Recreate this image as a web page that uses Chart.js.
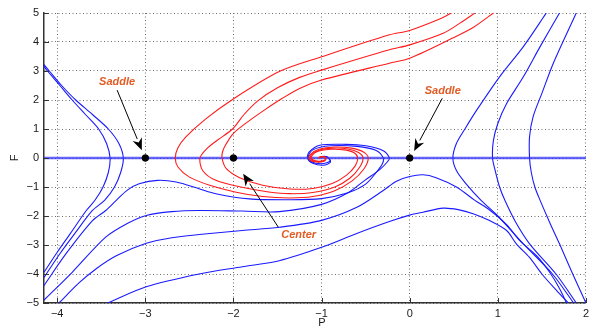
<!DOCTYPE html>
<html>
<head>
<meta charset="utf-8">
<script src="https://cdn.jsdelivr.net/npm/chart.js@4.4.0/dist/chart.umd.min.js"></script>
<style>
  html, body { margin: 0; padding: 0; background: #fff; }
  canvas { display: block; }
</style>
</head>
<body>
<canvas id="faseCanvas" width="593" height="331"></canvas>
<script>
/* Retrato de fase P-F: trayectorias */

// Rango de ejes y marcas
const xMin = -4.15, xMax = 2;
const yMin = -5, yMax = 5;
const xTicks = [-4, -3, -2, -1, 0, 1, 2];
const yTicks = [-5, -4, -3, -2, -1, 0, 1, 2, 3, 4, 5];

// Puntos de equilibrio
const equilibrios = [[-3, 0], [-2, 0], [0, 0]];

// Trayectorias rojas (espiral)
const rojaExterior = [[0.47,5.0],[0.36,4.82],[0.0,4.40],[-0.23,4.25],[-1.0,3.49],[-1.48,2.98],[-2.01,2.02],[-2.31,1.36],[-2.54,0.73],[-2.63,0.35],[-2.66,0],[-2.63,-0.31],[-2.5,-0.66],[-2.27,-0.94],[-1.97,-1.18],[-1.67,-1.33],[-1.36,-1.38],[-1.1,-1.33],[-0.85,-1.13],[-0.65,-0.78],[-0.52,-0.38],[-0.47,0],[-0.52,0.2],[-0.66,0.34],[-0.85,0.38],[-1.03,0.3],[-1.13,0.12],[-1.14,-0.04],[-1.08,-0.13],[-0.98,-0.12],[-0.95,-0.02],[-0.99,0.05],[-1.03,0.02],[-1.02,-0.01]];
const rojaMedia = [[0.74,5.0],[0.57,4.65],[0.38,4.3],[0.0,3.9],[-0.23,3.73],[-1.0,3.03],[-1.25,2.78],[-1.5,2.42],[-1.72,1.98],[-1.88,1.5],[-2.01,1.0],[-2.18,0.62],[-2.31,0.3],[-2.38,0],[-2.35,-0.43],[-2.2,-0.77],[-1.89,-1.02],[-1.6,-1.17],[-1.36,-1.23],[-1.1,-1.19],[-0.85,-1.0],[-0.68,-0.7],[-0.57,-0.33],[-0.53,0],[-0.58,0.19],[-0.7,0.31],[-0.87,0.34],[-1.03,0.27],[-1.12,0.1],[-1.12,-0.05],[-1.05,-0.12],[-0.97,-0.1],[-0.95,0],[-1.0,0.05],[-1.03,0.01]];
const rojaInterior = [[0.95,5.0],[0.72,4.5],[0.53,4.2],[0.0,3.44],[-0.23,3.27],[-1.0,2.69],[-1.25,2.4],[-1.45,2.05],[-1.65,1.65],[-1.85,1.22],[-2.0,0.85],[-2.08,0.5],[-2.12,0.25],[-2.13,0],[-2.08,-0.37],[-1.93,-0.68],[-1.67,-0.94],[-1.36,-1.07],[-1.1,-1.05],[-0.88,-0.88],[-0.72,-0.6],[-0.62,-0.28],[-0.59,0],[-0.63,0.18],[-0.74,0.28],[-0.9,0.3],[-1.04,0.23],[-1.11,0.08],[-1.1,-0.06],[-1.03,-0.11],[-0.96,-0.07],[-0.96,0.03],[-1.01,0.04],[-1.02,0]];

// Trayectorias azules
const separatriz = [[xMin, 0], [xMax, 0]];
const azulIzqInterior = [[-4.15,3.16],[-4.11,3.0],[-3.97,2.5],[-3.83,2.0],[-3.68,1.5],[-3.53,1.0],[-3.44,0.5],[-3.40,0],[-3.42,-0.5],[-3.48,-1.0],[-3.57,-1.45],[-3.67,-1.81],[-3.85,-2.6],[-4.0,-3.25],[-4.15,-3.94]];
const azulIzqExterior = [[-4.15,3.22],[-4.09,3.0],[-3.95,2.5],[-3.79,2.0],[-3.60,1.5],[-3.42,1.0],[-3.30,0.5],[-3.25,0],[-3.28,-0.5],[-3.35,-1.0],[-3.46,-1.45],[-3.60,-1.81],[-3.8,-2.6],[-3.97,-3.3],[-4.15,-4.12]];
const azulEspiralA = [[-4.15,-4.40],[-3.9,-3.3],[-3.6,-2.16],[-3.45,-1.81],[-3.33,-1.46],[-3.2,-1.1],[-3.07,-0.89],[-2.86,-0.77],[-2.65,-0.83],[-2.39,-1.06],[-2.2,-1.23],[-1.82,-1.41],[-1.36,-1.44],[-1.0,-1.4],[-0.7,-1.2],[-0.5,-0.9],[-0.38,-0.5],[-0.31,-0.2],[-0.30,0],[-0.38,0.26],[-0.6,0.4],[-0.9,0.42],[-1.1,0.28],[-1.15,0.05],[-1.12,-0.12],[-1.0,-0.2],[-0.9,-0.1],[-0.95,0.05],[-1.02,0.02]];
const azulEspiralB = [[-4.15,-4.90],[-3.83,-3.94],[-3.45,-2.73],[-3.2,-2.25],[-2.99,-1.98],[-2.7,-1.85],[-2.39,-1.81],[-1.9,-1.83],[-1.48,-1.85],[-1.0,-1.6],[-0.7,-1.2],[-0.51,-0.77],[-0.34,-0.4],[-0.25,-0.12],[-0.23,0],[-0.3,0.25],[-0.5,0.42],[-0.72,0.47],[-1.02,0.44],[-1.14,0.21],[-1.16,0],[-1.1,-0.18],[-0.98,-0.25],[-0.9,-0.15],[-0.93,0.03],[-1.0,0.05],[-1.02,0]];
const azulJoroba1 = [[-3.98,-5.0],[-3.75,-4.3],[-3.55,-3.8],[-3.33,-3.37],[-2.99,-2.94],[-2.7,-2.75],[-2.39,-2.64],[-1.9,-2.5],[-1.48,-2.39],[-1.0,-2.15],[-0.6,-1.7],[-0.3,-1.12],[-0.15,-0.8],[0.0,-0.64],[0.15,-0.58],[0.3,-0.68],[0.53,-1.0],[0.74,-1.46],[0.91,-1.8],[1.1,-2.3],[1.25,-2.85],[1.45,-3.4],[1.59,-3.95],[1.7,-4.5],[1.78,-5.0]];
const azulJoroba2 = [[-3.43,-5.0],[-2.99,-4.44],[-2.39,-4.0],[-1.9,-3.75],[-1.48,-3.54],[-1.0,-3.08],[-0.6,-2.6],[-0.23,-2.19],[0.0,-1.97],[0.15,-1.87],[0.38,-1.73],[0.55,-1.78],[0.72,-1.92],[0.9,-2.15],[1.10,-2.5],[1.21,-2.96],[1.36,-3.43],[1.5,-4.0],[1.67,-4.58],[1.80,-5.0]];
const azulDer1 = [[1.55,5],[1.29,3.84],[1.02,2.8],[0.76,1.65],[0.63,1.02],[0.53,0.5],[0.49,0],[0.53,-0.43],[0.64,-0.89],[0.81,-1.46],[1.0,-2.0],[1.29,-2.96],[1.62,-4.0],[1.86,-5]];
const azulDer2 = [[1.70,5],[1.48,3.84],[1.29,2.8],[1.10,1.88],[1.0,1.19],[0.95,0.61],[0.94,0],[0.97,-0.43],[1.02,-1.0],[1.08,-1.46],[1.2,-2.2],[1.36,-2.96],[1.66,-4.0],[1.89,-5]];
const azulDer3 = [[1.89,5],[1.63,3.27],[1.50,2.23],[1.40,1.42],[1.36,0.73],[1.36,0],[1.38,-0.5],[1.42,-1.0],[1.48,-1.46],[1.6,-2.3],[1.70,-2.96],[1.85,-4.0],[2.0,-5]];

// Anotaciones: texto y flecha (cola -> punta) en coordenadas de datos
const anotaciones = [
  { texto: 'Saddle', pos: [-3.32, 2.62], cola: [-3.32, 2.34], punta: [-3.04, 0.27] },
  { texto: 'Saddle', pos: [0.375, 2.31], cola: [0.37, 2.06], punta: [0.05, 0.24] },
  { texto: 'Center', pos: [-1.26, -2.67], cola: [-1.49, -2.39], punta: [-1.89, -0.54] }
];

const fuente = 'Liberation Sans, Arial, Helvetica, sans-serif';
const formatear = (v) => (v < 0 ? '\u2212' + Math.abs(v) : String(v));
const aPuntos = (arr) => arr.map(([x, y]) => ({ x, y }));

function curva(arr, color, ancho) {
  return {
    data: aPuntos(arr),
    showLine: true,
    borderColor: color,
    borderWidth: ancho || 1.1,
    pointRadius: 0,
    tension: 0.3,
    fill: false
  };
}

// Flechas, textos, marcas internas y títulos de ejes
const pluginExtras = {
  id: 'extras',
  afterDatasetsDraw(chart) {
    const { ctx, chartArea, scales: { x, y } } = chart;
    ctx.save();
    // marcas internas
    ctx.strokeStyle = '#333';
    ctx.lineWidth = 1;
    ctx.beginPath();
    xTicks.forEach(v => {
      const px = Math.round(x.getPixelForValue(v)) + 0.5;
      ctx.moveTo(px, chartArea.bottom);
      ctx.lineTo(px, chartArea.bottom - 5);
    });
    yTicks.forEach(v => {
      const py = Math.round(y.getPixelForValue(v)) + 0.5;
      ctx.moveTo(chartArea.left, py);
      ctx.lineTo(chartArea.left + 5, py);
    });
    ctx.stroke();

    anotaciones.forEach(a => {
      const x0 = x.getPixelForValue(a.cola[0]), y0 = y.getPixelForValue(a.cola[1]);
      const x1 = x.getPixelForValue(a.punta[0]), y1 = y.getPixelForValue(a.punta[1]);
      const ang = Math.atan2(y1 - y0, x1 - x0);
      const largo = 12, media = 5;
      const bx = x1 - largo * Math.cos(ang), by = y1 - largo * Math.sin(ang);
      ctx.strokeStyle = '#000';
      ctx.lineWidth = 1;
      ctx.beginPath();
      ctx.moveTo(x0, y0);
      ctx.lineTo(bx, by);
      ctx.stroke();
      ctx.fillStyle = '#000';
      ctx.beginPath();
      ctx.moveTo(x1, y1);
      ctx.lineTo(bx + media * Math.sin(ang), by - media * Math.cos(ang));
      ctx.lineTo(x1 - 0.7 * largo * Math.cos(ang), y1 - 0.7 * largo * Math.sin(ang));
      ctx.lineTo(bx - media * Math.sin(ang), by + media * Math.cos(ang));
      ctx.closePath();
      ctx.fill();

      ctx.fillStyle = '#e35b24';
      ctx.font = 'italic bold 11px ' + fuente;
      ctx.textAlign = 'center';
      ctx.textBaseline = 'middle';
      ctx.fillText(a.texto, x.getPixelForValue(a.pos[0]), y.getPixelForValue(a.pos[1]));
    });

    // títulos de ejes
    ctx.fillStyle = '#1a1a1a';
    ctx.font = '11px ' + fuente;
    ctx.textAlign = 'center';
    ctx.textBaseline = 'middle';
    ctx.fillText('P', (chartArea.left + chartArea.right) / 2 + 7, 323);
    ctx.translate(15, (chartArea.top + chartArea.bottom) / 2);
    ctx.rotate(-Math.PI / 2);
    ctx.fillText('F', 0, 0);
    ctx.restore();
  }
};

const datasets = [
  {
    data: aPuntos(equilibrios),
    showLine: false,
    pointRadius: 3.3,
    pointBackgroundColor: '#000',
    pointBorderColor: '#000'
  },
  curva(rojaExterior, '#ff1a1a'),
  curva(rojaMedia, '#ff1a1a'),
  curva(rojaInterior, '#ff1a1a'),
  curva(separatriz, 'rgba(50,50,250,0.75)', 2.4),
  curva(azulIzqInterior, '#1a1aff'),
  curva(azulIzqExterior, '#1a1aff'),
  curva(azulEspiralA, '#1a1aff'),
  curva(azulEspiralB, '#1a1aff'),
  curva(azulJoroba1, '#1a1aff'),
  curva(azulJoroba2, '#1a1aff'),
  curva(azulDer1, '#1a1aff'),
  curva(azulDer2, '#1a1aff'),
  curva(azulDer3, '#1a1aff')
];

new Chart(document.getElementById('faseCanvas').getContext('2d'), {
  type: 'scatter',
  data: { datasets },
  options: {
    responsive: false,
    animation: false,
    layout: { padding: { left: 0, right: 7, top: 13, bottom: 0 } },
    plugins: { legend: { display: false }, tooltip: { enabled: false } },
    scales: {
      x: {
        type: 'linear',
        min: xMin,
        max: xMax,
        afterBuildTicks: (s) => { s.ticks = xTicks.map(v => ({ value: v })); },
        afterFit: (s) => { s.height = 28; },
        ticks: {
          callback: (v) => formatear(v),
          font: { family: fuente, size: 11 },
          color: '#1a1a1a',
          padding: 4,
          maxRotation: 0
        },
        grid: { color: '#6e6e6e', lineWidth: 1, drawTicks: false },
        border: { display: true, color: '#333', width: 1.5, dash: [1, 2.5] }
      },
      y: {
        type: 'linear',
        min: yMin,
        max: yMax,
        afterBuildTicks: (s) => { s.ticks = yTicks.map(v => ({ value: v })); },
        afterFit: (s) => { s.width = 44; },
        ticks: {
          callback: (v) => formatear(v),
          font: { family: fuente, size: 11 },
          color: '#1a1a1a',
          padding: 5
        },
        grid: { color: '#6e6e6e', lineWidth: 1, drawTicks: false },
        border: { display: true, color: '#333', width: 1.5, dash: [1, 2.5] }
      }
    }
  },
  plugins: [pluginExtras]
});
</script>
</body>
</html>
